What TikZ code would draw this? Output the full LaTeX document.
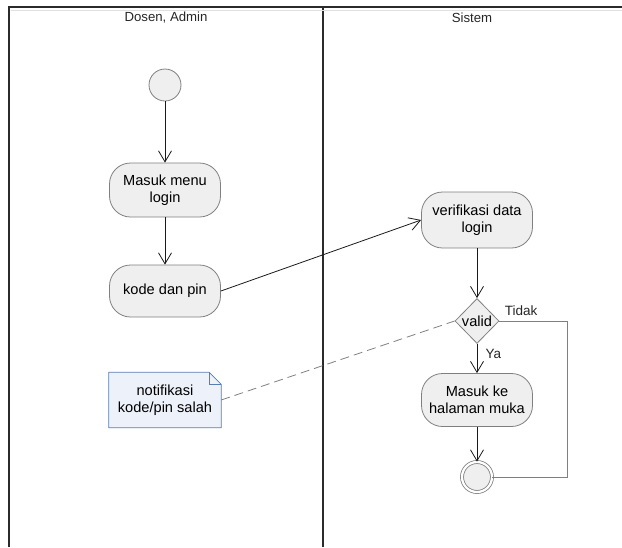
\documentclass[tikz,border=0pt]{standalone}
\usepackage{fontspec}
\setmainfont{Liberation Sans}
\usetikzlibrary{arrows.meta,shapes.geometric,calc,backgrounds}
\definecolor{actfill}{HTML}{EFEFEF}
\definecolor{actline}{HTML}{808080}
\definecolor{lanecol}{HTML}{2B2B2B}
\definecolor{notefill}{HTML}{EDF2FA}
\definecolor{noteline}{HTML}{5A7CB0}
\definecolor{flowcol}{HTML}{1A1A1A}
\begin{document}
\begin{tikzpicture}[x=1pt,y=-1pt,
  font=\fontsize{14.6}{16.5}\selectfont,
  act/.style={draw=actline,line width=0.8pt,fill=actfill,rounded corners=21pt,
    minimum width=111pt,minimum height=54pt,align=center,inner sep=2pt},
  startnode/.style={circle,draw=actline,line width=0.8pt,fill=actfill,minimum size=32pt,inner sep=0pt},
  endnode/.style={circle,draw=actline,line width=0.8pt,fill=actfill,minimum size=32pt,inner sep=0pt,
    double=white,double distance=2.2pt},
  decision/.style={diamond,draw=actline,line width=0.8pt,fill=actfill,minimum width=44pt,minimum height=45pt,
    inner sep=0pt,aspect=1},
  flow/.style={draw=flowcol,line width=0.8pt,-{Straight Barb[length=11pt,width=13pt]}},
  lane/.style={draw=lanecol,line width=1.6pt},
  lanetitle/.style={font=\fontsize{13.2}{15}\selectfont,text=black!85},
  lbl/.style={font=\fontsize{13.5}{15}\selectfont,text=black!85}
]
\useasboundingbox (0,0) rectangle (622,547);
% swimlanes
\draw[lane] (9,547) -- (9,7) -- (622,7);
\draw[lane] (323,7) -- (323,547);
\draw[black!12,line width=1pt] (11,10) -- (622,10);
\node[lanetitle] (t1) at (166,18) {Dosen, Admin};
\node[lanetitle] (t2) at (472,18) {Sistem};
% nodes
\node[startnode] (start) at (165,85) {};
\node[act] (a1) at (165,190) {Masuk menu\\login};
\node[act,minimum height=52pt] (a2) at (165,291) {kode dan pin};
\node[act,minimum height=56pt] (a3) at (477,220) {verifikasi data\\login};
\node[decision] (d) at (477,321) {valid};
\node[act,minimum height=53pt] (a4) at (477,400) {Masuk ke\\halaman muka};
\node[endnode,minimum size=30pt] (end) at (477,477) {};
% note
\node[minimum width=112pt,minimum height=55pt,align=center,inner sep=2pt] (note) at (165,400) {notifikasi\\kode/pin salah};
\begin{scope}[on background layer]
\draw[draw=noteline,fill=notefill,line width=0.8pt]
  (note.north west) -- ($(note.north east)+(-12,0)$) -- ($(note.north east)+(0,12)$)
  -- (note.south east) -- (note.south west) -- cycle;
\draw[draw=noteline,line width=0.8pt] ($(note.north east)+(-12,0)$) -- ($(note.north east)+(-12,12)$) -- ($(note.north east)+(0,12)$);
\end{scope}
% flows
\draw[flow] (start) -- (a1);
\draw[flow] (a1) -- (a2);
\draw[flow] (a2.east) -- (a3.west);
\draw[flow] (a3) -- (d);
\draw[flow] (d) -- node[lbl,right,pos=0.35,xshift=5pt] {Ya} (a4);
\draw[flow] (a4) -- (end);
\coordinate (loopc) at (567,321);
\draw[draw=actline,line width=0.8pt] (d.east) -- (loopc) |- (end.east);
\node[lbl,anchor=south west] (tidak) at ($(d.east)+(2,-2)$) {Tidak};
\draw[draw=actline,line width=0.8pt,dash pattern=on 9pt off 5pt] (note.east) -- (d.west);
\end{tikzpicture}
\end{document}
